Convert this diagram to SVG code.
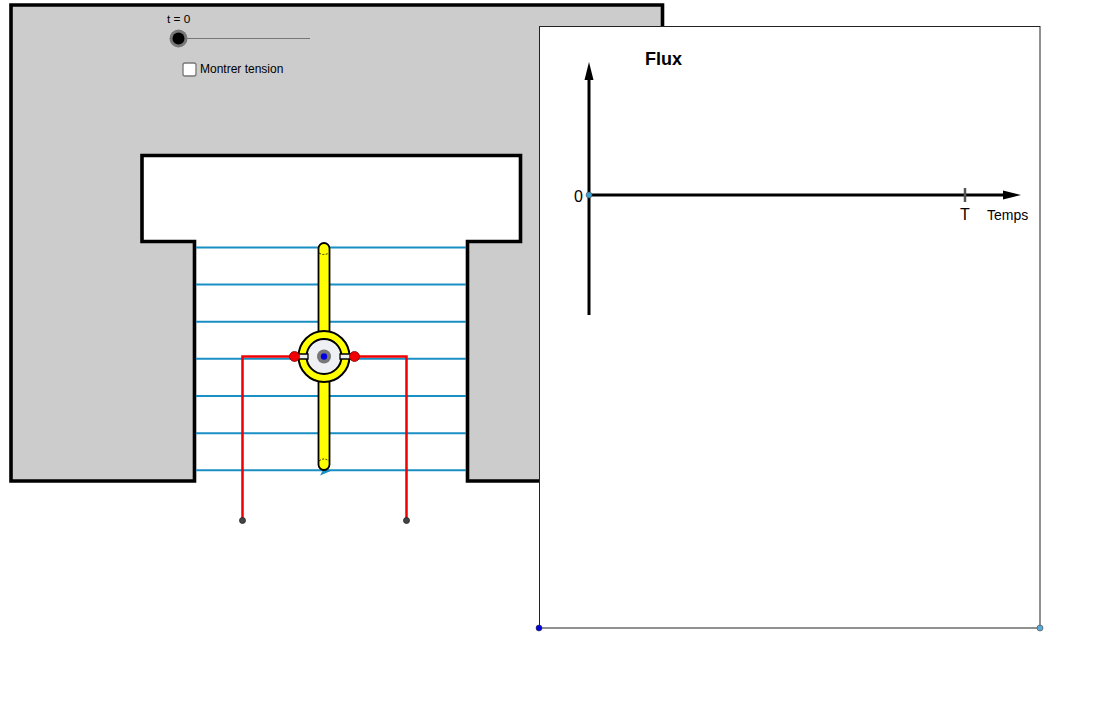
<svg xmlns="http://www.w3.org/2000/svg" width="1097" height="702" viewBox="0 0 1097 702">
<style>
text{font-family:"Liberation Sans",Arial,sans-serif;fill:#000}
.fl{stroke:#1a8fc4;stroke-width:2;fill:none}
.red{stroke:#f00000;stroke-width:2.500;fill:none}
.ax{stroke:#000;stroke-width:3;fill:none}
</style>
<rect width="1097" height="702" fill="#fff"/>
<g id="magnet">
<path d="M11 5H662.500V481H467.500V241.500H520.500V155.500H142V241.500H194.500V481H11Z" fill="#ccc" stroke="#000" stroke-width="3.600" stroke-linejoin="miter"/>
</g>
<g id="connectors">
<path class="fl" d="M196 247.500H466M196 284.500H466M196 321.800H466M196 358.800H466M196 396H466M196 433.200H466M196 470.300H466"/>
<path d="M319.500 467L332 470.500L320 475.500L323 470Z" fill="#1a8fc4"/>
</g>
<g id="coil">
<rect x="318.500" y="243" width="11" height="227" rx="5.500" fill="#ff0" stroke="#000" stroke-width="1.800"/>
<path d="M319 253Q324 256 329 253M319 461Q324 457 329 461" fill="none" stroke="#000" stroke-width="0.800" stroke-dasharray="2 1.500"/>
<circle cx="324" cy="356.500" r="25.500" fill="#ff0" stroke="#000" stroke-width="2"/>
<circle cx="324" cy="356.500" r="17.500" fill="#eef0f4" stroke="#000" stroke-width="2"/>
<path d="M296 354H308V359H296ZM340 354H352V359H340Z" fill="#eee" stroke="#000" stroke-width="1.300"/>
<circle cx="324" cy="356.500" r="7" fill="#777"/>
<circle cx="324" cy="356.500" r="3.200" fill="#0000e0"/>
</g>
<g id="wires">
<path class="red" d="M242.500 520V356.500H294M354 356.500H406.500V520"/>
<circle cx="294.500" cy="356.500" r="5" fill="#f00000" stroke="#700" stroke-width="0.800"/>
<circle cx="354.500" cy="356.500" r="5" fill="#f00000" stroke="#700" stroke-width="0.800"/>
<circle cx="242.500" cy="520.500" r="3" fill="#444" stroke="#222" stroke-width="0.800"/>
<circle cx="406.500" cy="520.500" r="3" fill="#444" stroke="#222" stroke-width="0.800"/>
</g>
<g id="slider">
<text x="167" y="22.500" font-size="11.800">t = 0</text>
<line x1="178" y1="38.500" x2="310" y2="38.500" stroke="#777" stroke-width="1"/>
<circle cx="178.500" cy="38.500" r="9" fill="#777"/>
<circle cx="178.500" cy="38.500" r="6" fill="#000"/>
</g>
<g id="checkbox">
<rect x="183" y="63" width="13" height="13" rx="2" fill="#fff" stroke="#777" stroke-width="1.300"/>
<text x="200" y="73" font-size="12">Montrer tension</text>
</g>
<g id="graph">
<rect x="539.500" y="26.500" width="500.500" height="601.500" fill="#fff" stroke="#222" stroke-width="1"/>
<path class="ax" d="M589 315V76M589 195H1006"/>
<path d="M589 62L593.500 80H584.500Z" fill="#000"/>
<path d="M1021 195L1003 190.500V199.500Z" fill="#000"/>
<line x1="965" y1="188" x2="965" y2="202" stroke="#555" stroke-width="2.500"/>
<text x="645" y="65" font-size="18" font-weight="bold">Flux</text>
<text x="574" y="202" font-size="16">0</text>
<text x="960" y="220" font-size="16">T</text>
<text x="987" y="219.500" font-size="14">Temps</text>
<circle cx="589" cy="195" r="3" fill="#3fa0d0" stroke="#555" stroke-width="0.600"/>
<circle cx="539" cy="628" r="3" fill="#0000e0" stroke="#333" stroke-width="0.600"/>
<circle cx="1040" cy="628" r="3" fill="#5aaad8" stroke="#444" stroke-width="0.600"/>
</g>
</svg>
